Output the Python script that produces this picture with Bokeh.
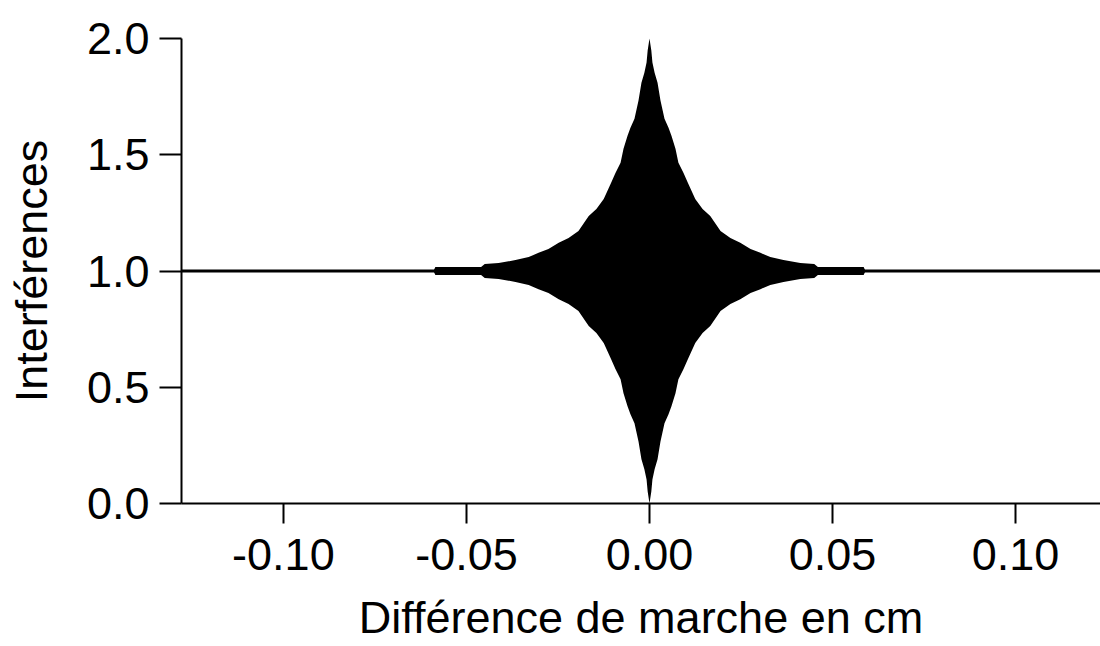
from bokeh.plotting import figure
from bokeh.models import Range1d, FixedTicker
from bokeh.embed import file_html
from bokeh.resources import INLINE

# Envelope of the interferogram, positive side, in cm
env_x = [0.0, 0.0005, 0.0008, 0.0014, 0.0022, 0.0030, 0.0041, 0.0052, 0.0060,
         0.0071, 0.0079, 0.0093, 0.0106, 0.0125, 0.0145, 0.0166, 0.0194, 0.0221,
         0.0248, 0.0276, 0.0303, 0.0330, 0.0366, 0.0412, 0.0450, 0.0460, 0.0585,
         0.0590]
env_a = [1.0, 0.948, 0.897, 0.853, 0.81, 0.733, 0.655, 0.616, 0.582,
         0.526, 0.466, 0.422, 0.375, 0.31, 0.267, 0.237, 0.172, 0.142,
         0.121, 0.095, 0.078, 0.060, 0.047, 0.034, 0.030, 0.017, 0.017,
         0.0]
mean_level = 1.0
baseline_x = [-0.128, 0.124]
baseline_y = [1.0, 1.0]

x_ticks = [-0.10, -0.05, 0.0, 0.05, 0.10]
x_tick_labels = ["-0.10", "-0.05", "0.00", "0.05", "0.10"]
y_ticks = [0.0, 0.5, 1.0, 1.5, 2.0]
y_tick_labels = ["0.0", "0.5", "1.0", "1.5", "2.0"]

# symmetric envelope
xs = [-v for v in env_x[::-1]] + env_x[1:]
amps = env_a[::-1] + env_a[1:]
upper = [mean_level + a for a in amps]
lower = [mean_level - a for a in amps]

FONT = "Liberation Sans"

p = figure(width=1100, height=646, output_backend="svg", toolbar_location=None,
           x_range=Range1d(-0.12783, 0.12319), y_range=Range1d(0.0, 2.0),
           min_border_left=181, min_border_right=0, min_border_top=38,
           min_border_bottom=143)
p.outline_line_color = None
p.xgrid.visible = False
p.ygrid.visible = False
p.background_fill_color = "white"
p.border_fill_color = "white"

p.line(baseline_x, baseline_y, line_color="black", line_width=3)
p.varea(x=xs, y1=lower, y2=upper, fill_color="black")

for ax in (p.xaxis[0], p.yaxis[0]):
    ax.axis_line_width = 2
    ax.axis_line_color = "black"
    ax.major_tick_line_width = 2
    ax.major_tick_line_color = "black"
    ax.major_tick_in = 0
    ax.minor_tick_line_color = None
    ax.major_label_text_font = FONT
    ax.major_label_text_font_size = "45px"
    ax.major_label_text_color = "black"
    ax.axis_label_text_font = FONT
    ax.axis_label_text_font_size = "45px"
    ax.axis_label_text_font_style = "normal"
    ax.axis_label_text_color = "black"

p.xaxis[0].ticker = FixedTicker(ticks=x_ticks)
p.xaxis[0].major_label_overrides = dict(zip(x_ticks, x_tick_labels))
p.xaxis[0].major_tick_out = 20
p.xaxis[0].major_label_standoff = 15
p.xaxis[0].axis_label = "Différence de marche en cm"
p.xaxis[0].axis_label_standoff = 19

p.yaxis[0].ticker = FixedTicker(ticks=y_ticks)
p.yaxis[0].major_label_overrides = dict(zip(y_ticks, y_tick_labels))
p.yaxis[0].major_tick_out = 22
p.yaxis[0].major_label_standoff = 10
p.yaxis[0].axis_label = "Interférences"
p.yaxis[0].axis_label_standoff = 27

open("out.html", "w").write(file_html(p, INLINE))
